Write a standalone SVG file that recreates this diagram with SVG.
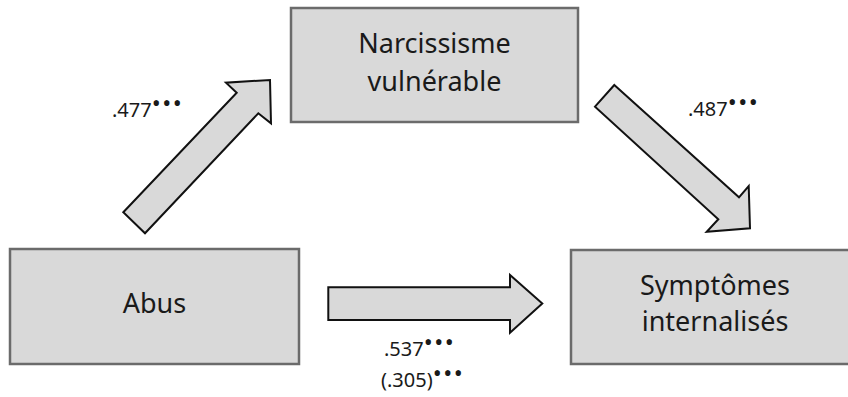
<svg xmlns="http://www.w3.org/2000/svg" width="848" height="397" viewBox="0 0 848 397">
<style>
.box{fill:#d9d9d9;stroke:#6b6b6b;stroke-width:2.5}
.arr{fill:#d9d9d9;stroke:#111;stroke-width:2;stroke-linejoin:miter}
.t{font-family:"Noto Sans","Open Sans","DejaVu Sans",sans-serif;font-size:27px;fill:#1a1a1a;text-anchor:middle}
.l{font-family:"Noto Sans","Open Sans","DejaVu Sans",sans-serif;font-size:20px;fill:#1a1a1a}
.s{font-size:24px;letter-spacing:1.5px}
</style>
<rect width="848" height="397" fill="#fff"/>
<g id="connectors">
<polygon class="arr" points="123.3,212.3 236.7,92.7 226,82.7 270,80 271,123.3 258.3,113.3 145,233.3"/>
<polygon class="arr" points="614.3,85 739,197.3 748.7,186 750,228.3 706.7,231.7 718.3,219.3 595,106.7"/>
<polygon class="arr" points="328.3,287.3 510,287.3 510,275 542.3,303.5 510,332.7 510,320 328.3,320"/>
<text class="l" x="112" y="117">.477<tspan class="s" dy="-5">•••</tspan></text>
<text class="l" x="688" y="116">.487<tspan class="s" dy="-5">•••</tspan></text>
<text class="l" x="384" y="356">.537<tspan class="s" dy="-5">•••</tspan></text>
<text class="l" x="381" y="387">(.305)<tspan class="s" dy="-5">•••</tspan></text>
</g>
<g id="narcissisme">
<rect class="box" x="291" y="8" width="287" height="114"/>
<text class="t" x="434.5" y="53">Narcissisme</text>
<text class="t" x="434.5" y="91">vulnérable</text>
</g>
<g id="abus">
<rect class="box" x="10" y="249" width="289" height="115"/>
<text class="t" x="154.5" y="313">Abus</text>
</g>
<g id="symptomes">
<rect class="box" x="571" y="250" width="290" height="114"/>
<text class="t" x="715" y="295">Symptômes</text>
<text class="t" x="715" y="331">internalisés</text>
</g>
</svg>
